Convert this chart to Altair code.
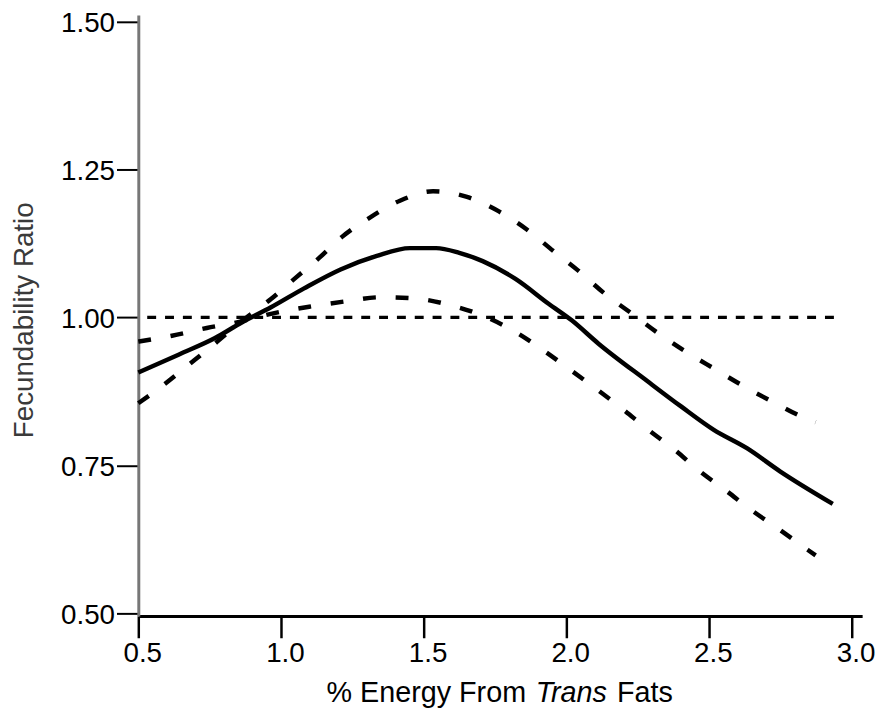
import altair as alt
import pandas as pd

# --- data ---
x_fit = [0.5, 0.641, 0.769, 0.861, 0.965, 1.081, 1.209, 1.336, 1.452, 1.544, 1.625,
         1.707, 1.822, 1.938, 2.019, 2.112, 2.285, 2.401, 2.517, 2.633, 2.749, 2.934]
y_fit = [0.907, 0.937, 0.965, 0.991, 1.017, 1.049, 1.081, 1.104, 1.117, 1.117, 1.109,
         1.095, 1.065, 1.023, 0.995, 0.956, 0.892, 0.850, 0.810, 0.779, 0.740, 0.685]

x_upper = [0.5, 0.589, 0.682, 0.769, 0.861, 0.965, 1.047, 1.133, 1.214, 1.313, 1.417,
           1.533, 1.649, 1.764, 1.863, 1.955, 2.042, 2.135, 2.228, 2.320, 2.419, 2.523,
           2.621, 2.725, 2.836, 2.874]
y_upper = [0.855, 0.886, 0.922, 0.956, 0.993, 1.031, 1.065, 1.100, 1.136, 1.169, 1.197,
           1.213, 1.204, 1.179, 1.148, 1.112, 1.079, 1.040, 1.007, 0.974, 0.942, 0.912,
           0.884, 0.857, 0.830, 0.823]

x_lower = [0.5, 0.618, 0.740, 0.849, 0.965, 1.099, 1.226, 1.348, 1.469, 1.591, 1.707,
           1.816, 1.915, 2.007, 2.100, 2.193, 2.285, 2.378, 2.465, 2.558, 2.650, 2.749,
           2.847, 2.874]
y_lower = [0.959, 0.969, 0.982, 0.992, 1.006, 1.018, 1.027, 1.034, 1.032, 1.021, 1.003,
           0.977, 0.946, 0.914, 0.881, 0.847, 0.811, 0.777, 0.741, 0.708, 0.674, 0.641,
           0.607, 0.598]

x_ref = [0.5, 2.955]
y_ref = [1.0, 1.0]

x_ticks = [0.5, 1.0, 1.5, 2.0, 2.5, 3.0]
y_ticks = [0.5, 0.75, 1.0, 1.25, 1.5]

y_title = "Fecundability Ratio"
x_title_parts = ["% Energy From", "Trans", "Fats"]

FONT = "Liberation Sans"

xs = alt.Scale(domain=[0.5, 3.037], nice=False, zero=False)
ys = alt.Scale(domain=[0.4956, 1.511], nice=False, zero=False)

x_axis = alt.Axis(values=x_ticks, format=".1f", title=None, grid=False,
                  domainColor="black", domainWidth=3, tickColor="black",
                  tickWidth=2.5, tickSize=22, labelFont=FONT, labelFontSize=28,
                  labelColor="black", labelPadding=2, labelOffset=4,
                  labelFlush=False, labelBound=False, labelOverlap=False)
y_axis = alt.Axis(values=y_ticks, format=".2f", title=None, grid=False,
                  domainColor="#777777", domainWidth=3, tickColor="black",
                  tickWidth=2, tickSize=22, labelFont=FONT, labelFontSize=28,
                  labelColor="black", labelPadding=2, labelOffset=2,
                  labelFlush=False, labelBound=False, labelOverlap=False)


def line_layer(xv, yv):
    df = pd.DataFrame({"x": xv, "y": yv})
    return alt.Chart(df).encode(
        x=alt.X("x:Q", scale=xs, axis=x_axis),
        y=alt.Y("y:Q", scale=ys, axis=y_axis),
    )


ref = line_layer(x_ref, y_ref).mark_line(color="black", strokeWidth=3.5,
                                          strokeDash=[9, 9], strokeDashOffset=9)
fit = line_layer(x_fit, y_fit).mark_line(color="black", strokeWidth=4.5,
                                          interpolate="monotone")
upper = line_layer(x_upper, y_upper).mark_line(color="black", strokeWidth=4.5,
                                                strokeDash=[13, 20],
                                                interpolate="monotone")
lower = line_layer(x_lower, y_lower).mark_line(color="black", strokeWidth=4.5,
                                                strokeDash=[13, 20],
                                                interpolate="monotone")


def text_layer(txt, x, y, **kw):
    return alt.Chart(pd.DataFrame({"t": [txt]})).mark_text(
        font=FONT, color=kw.pop("color", "black"), **kw
    ).encode(x=alt.value(x), y=alt.value(y), text="t:N")


yt = text_layer(y_title, -106.5, 308.2, angle=270, align="center",
                baseline="alphabetic", fontSize=28, color="#3a3a3a")
xt1 = text_layer(x_title_parts[0], 190, 693.3, align="left",
                 baseline="alphabetic", fontSize=29)
xt2 = text_layer(x_title_parts[1], 401, 693.3, align="left",
                 baseline="alphabetic", fontSize=29, fontStyle="italic")
xt3 = text_layer(x_title_parts[2], 483, 693.3, align="left",
                 baseline="alphabetic", fontSize=29)

chart = alt.layer(ref, upper, lower, fit, yt, xt1, xt2, xt3).properties(
    width=730.5, height=606.6,
    autosize=alt.AutoSizeParams(type="none"),
    padding={"left": 131.5, "top": 3.7, "right": 15, "bottom": 96},
    background="white",
).configure_view(stroke=None)

chart.save("out.html", embed_options={"renderer": "svg", "actions": False})
